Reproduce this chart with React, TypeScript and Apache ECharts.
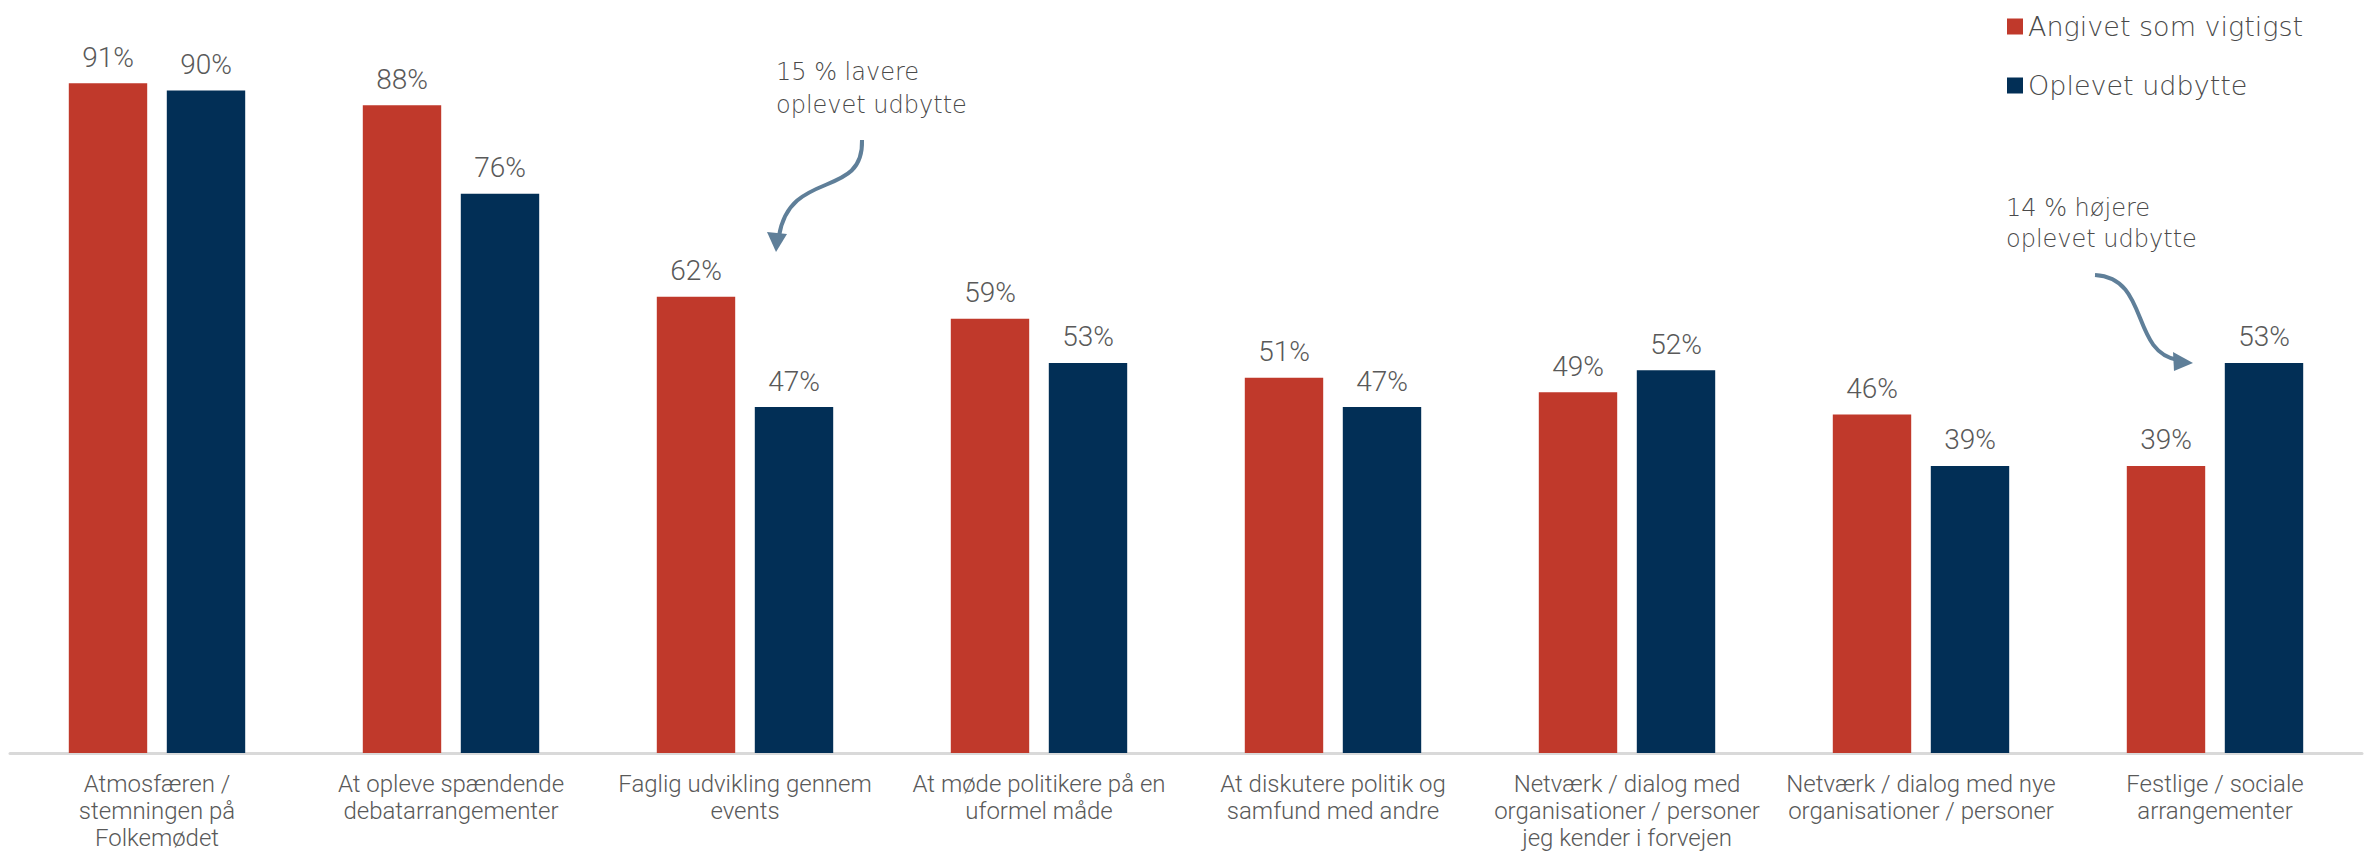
import React, { useEffect, useRef } from "react";
import * as echarts from "echarts";

const categories = [
  "Atmosfæren /\nstemningen på\nFolkemødet",
  "At opleve spændende\ndebatarrangementer",
  "Faglig udvikling gennem\nevents",
  "At møde politikere på en\nuformel måde",
  "At diskutere politik og\nsamfund med andre",
  "Netværk / dialog med\norganisationer / personer\njeg kender i forvejen",
  "Netværk / dialog med nye\norganisationer / personer",
  "Festlige / sociale\narrangementer",
];
const seriesNames = ["Angivet som vigtigst", "Oplevet udbytte"];
const angivet = [91, 88, 62, 59, 51, 49, 46, 39];
const oplevet = [90, 76, 47, 53, 47, 52, 39, 53];
const annotationLower = "15 % lavere\noplevet udbytte";
const annotationHigher = "14 % højere\noplevet udbytte";

const RED = "#C0392B";
const BLUE = "#022F56";
const TEXT = "#595959";
const TEXT_LIGHT = "#4A4A4A";
const ARROW = "#5F7F99";
const FONT = "Roboto";
const WIDE = "DejaVu Sans";

export default function App() {
  const ref = useRef<HTMLDivElement>(null);
  useEffect(() => {
    document.body.style.margin = "0";
    const chart = echarts.init(ref.current!, null, { renderer: "svg" });
    const label = {
      show: true,
      position: "top",
      distance: 12,
      formatter: "{c}%",
      color: TEXT,
      fontSize: 28,
      fontFamily: FONT,
      fontWeight: 300,
    };
    chart.setOption({
      animation: false,
      backgroundColor: "#ffffff",
      grid: { left: 10, right: 2, top: 17, bottom: 98, containLabel: false },
      legend: {
        orient: "vertical",
        left: 2002,
        top: 8,
        itemWidth: 16,
        itemHeight: 16,
        itemGap: 32,
        icon: "rect",
        textStyle: { color: TEXT_LIGHT, fontSize: 27, fontFamily: WIDE, fontWeight: 200 },
        data: seriesNames,
      },
      xAxis: {
        type: "category",
        data: categories,
        axisLine: { lineStyle: { color: "#D9D9D9", width: 3 } },
        axisTick: { show: false },
        axisLabel: {
          interval: 0,
          margin: 17,
          color: TEXT,
          fontSize: 24,
          lineHeight: 27,
          fontFamily: FONT,
          fontWeight: 300,
        },
      },
      yAxis: {
        type: "value",
        min: 0,
        max: 100,
        show: false,
        splitLine: { show: false },
      },
      series: [
        {
          name: seriesNames[0],
          type: "bar",
          data: angivet,
          itemStyle: { color: RED },
          barGap: "25%",
          barCategoryGap: "40%",
          label,
        },
        {
          name: seriesNames[1],
          type: "bar",
          data: oplevet,
          itemStyle: { color: BLUE },
          barGap: "25%",
          barCategoryGap: "40%",
          label,
        },
      ],
      graphic: [
        {
          type: "text",
          left: 776,
          top: 55,
          style: {
            text: annotationLower,
            fill: TEXT_LIGHT,
            fontSize: 24,
            lineHeight: 33,
            fontFamily: WIDE,
            fontWeight: 200,
          },
        },
        {
          type: "text",
          left: 2006,
          top: 192,
          style: {
            text: annotationHigher,
            fill: TEXT_LIGHT,
            fontSize: 24,
            lineHeight: 31,
            fontFamily: WIDE,
            fontWeight: 200,
          },
        },
        {
          type: "bezierCurve",
          shape: { x1: 862, y1: 140, cpx1: 864, cpy1: 200, cpx2: 790, cpy2: 168, x2: 779, y2: 236 },
          style: { stroke: ARROW, lineWidth: 4, fill: "none" },
        },
        {
          type: "polygon",
          shape: { points: [[776, 252], [767, 232], [787, 234]] },
          style: { fill: ARROW },
        },
        {
          type: "bezierCurve",
          shape: { x1: 2095, y1: 275, cpx1: 2150, cpy1: 278, cpx2: 2130, cpy2: 352, x2: 2178, y2: 360 },
          style: { stroke: ARROW, lineWidth: 4, fill: "none" },
        },
        {
          type: "polygon",
          shape: { points: [[2193, 363], [2173, 352], [2174, 371]] },
          style: { fill: ARROW },
        },
      ],
    });
    return () => chart.dispose();
  }, []);
  return <div ref={ref} style={{ width: 2364, height: 851 }} />;
}
